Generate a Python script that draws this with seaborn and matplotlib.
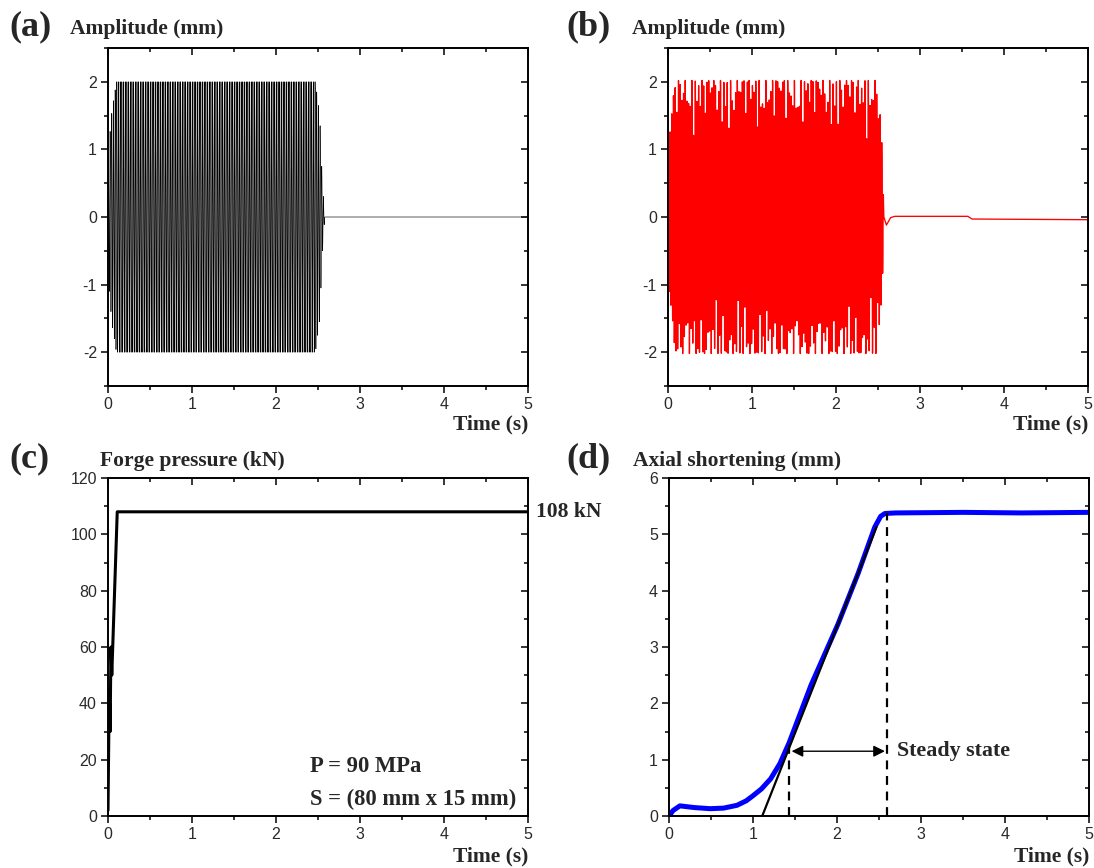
import numpy as np
import pandas as pd
import matplotlib
matplotlib.use("Agg")
import matplotlib.pyplot as plt
from matplotlib.ticker import MultipleLocator
import seaborn as sns

sns.set_theme(style="white")
plt.rcParams['font.family'] = ['Liberation Sans', 'DejaVu Sans']
plt.rcParams['axes.unicode_minus'] = False

# ---------------- data ----------------
# (a) vibration amplitude: envelope knots, oscillation frequency (Hz)
a_env_t = [0.0, 0.02, 0.05, 0.10, 2.47, 2.52, 2.55, 2.58]
a_env_amp = [0.8, 1.2, 1.6, 2.0, 2.0, 1.5, 0.6, 0.0]
a_freq = 50.0
a_tail_t = [2.58, 5.0]
a_tail_v = [0.0, 0.0]

# (b) measured amplitude: envelope knots, carrier frequency, peak-dip modulation, tail
b_env_t = [0.0, 0.02, 0.05, 0.10, 2.48, 2.53, 2.56, 2.57]
b_env_amp = [0.9, 1.3, 1.7, 2.02, 2.02, 1.5, 0.7, 0.0]
b_freq = 50.0
b_dip_freq_top = [7.3, 11.9]
b_dip_freq_bot = [5.7, 13.3]
b_dip_depth = [0.24, 0.20]
b_tail_t = [2.57, 2.60, 2.65, 2.70, 3.57, 3.62, 5.0]
b_tail_v = [0.0, -0.12, -0.01, 0.01, 0.01, -0.03, -0.04]

# (c) forge pressure
c_t = [0.0, 0.015, 0.025, 0.035, 0.045, 0.11, 5.0]
c_v = [2.0, 45.0, 30.0, 60.0, 50.0, 108.0, 108.0]

# (d) axial shortening
d_t = [0.0, 0.05, 0.13, 0.3, 0.49, 0.65, 0.81, 0.92, 1.0, 1.1, 1.21, 1.32, 1.43,
       1.69, 2.01, 2.25, 2.45, 2.52, 2.57, 2.7, 3.5, 4.2, 5.0]
d_v = [0.0, 0.10, 0.18, 0.15, 0.13, 0.14, 0.19, 0.27, 0.36, 0.48, 0.66, 0.93, 1.30,
       2.32, 3.40, 4.30, 5.13, 5.32, 5.37, 5.38, 5.39, 5.38, 5.39]
d_tan_t = [1.11, 2.47]
d_tan_v = [0.0, 5.13]
d_dash_t = [1.43, 2.60]
d_dash_top = [1.35, 5.38]
d_arrow_y = 1.15

# ---------------- build series ----------------
fs = 1000.0
t_osc = np.arange(0, a_env_t[-1], 1 / fs)
a_sig = np.interp(t_osc, a_env_t, a_env_amp) * np.sin(2 * np.pi * a_freq * t_osc)
df_a = pd.DataFrame({"t": np.concatenate([t_osc, a_tail_t]),
                     "v": np.concatenate([a_sig, a_tail_v])})

t_osc_b = np.arange(0, b_env_t[-1], 1 / fs)
s = np.sin(2 * np.pi * b_freq * t_osc_b)
def dips(freqs):
    return 1 - sum(d * np.sin(2 * np.pi * f * t_osc_b + 0.7 * i) ** 12
                   for i, (d, f) in enumerate(zip(b_dip_depth, freqs)))
mod = np.where(s > 0, dips(b_dip_freq_top), dips(b_dip_freq_bot))
b_sig = np.interp(t_osc_b, b_env_t, b_env_amp) * s * mod
df_b = pd.DataFrame({"t": np.concatenate([t_osc_b, b_tail_t]),
                     "v": np.concatenate([b_sig, b_tail_v])})
df_c = pd.DataFrame({"t": c_t, "v": c_v})
df_d = pd.DataFrame({"t": d_t, "v": d_v})
df_tan = pd.DataFrame({"t": d_tan_t, "v": d_tan_v})

# ---------------- figure ----------------
W, H = 1094, 868
fig = plt.figure(figsize=(W / 100, H / 100), dpi=100)

def fx(px):
    return px / W

def fy(py):
    return 1 - py / H

axw, axh = 420 / W, 338 / H
ax_a = fig.add_axes([fx(108), fy(386), axw, axh])
ax_b = fig.add_axes([fx(668), fy(386), axw, axh])
ax_c = fig.add_axes([fx(108), fy(816), axw, axh])
ax_d = fig.add_axes([fx(669), fy(816), axw, axh])

serif = ['Liberation Serif', 'DejaVu Serif']

def style(ax, ylim, ymaj, ymin):
    ax.set_xlim(0, 5)
    ax.set_ylim(*ylim)
    ax.xaxis.set_major_locator(MultipleLocator(1))
    ax.xaxis.set_minor_locator(MultipleLocator(0.5))
    ax.yaxis.set_major_locator(MultipleLocator(ymaj))
    ax.yaxis.set_minor_locator(MultipleLocator(ymin))
    ax.set_xlabel("")
    ax.set_ylabel("")
    for sp in ax.spines.values():
        sp.set_linewidth(1.4)
        sp.set_color("black")
    ax.tick_params(which="both", direction="out", bottom=True, left=True,
                   top=False, right=False, color="black", width=1.1,
                   labelsize=11.5, labelcolor="#2a2a2a", pad=3)
    ax.tick_params(which="major", length=5)
    ax.tick_params(which="minor", length=3)
    ax2 = ax.secondary_xaxis("top")
    ax2.xaxis.set_major_locator(MultipleLocator(1))
    ax2.xaxis.set_minor_locator(MultipleLocator(0.5))
    ax2.tick_params(which="both", direction="in", labeltop=False, width=1.1, color="black")
    ax2.tick_params(which="major", length=5)
    ax2.tick_params(which="minor", length=3)
    ax3 = ax.secondary_yaxis("right")
    ax3.yaxis.set_major_locator(MultipleLocator(ymaj))
    ax3.yaxis.set_minor_locator(MultipleLocator(ymin))
    ax3.tick_params(which="both", direction="in", labelright=False, width=1.1, color="black")
    ax3.tick_params(which="major", length=5)
    ax3.tick_params(which="minor", length=3)
    ax2.spines["top"].set_visible(False)
    ax3.spines["right"].set_visible(False)
    ax.grid(False)

sns.lineplot(data=df_a, x="t", y="v", ax=ax_a, color="black", lw=0.45,
             sort=False, estimator=None)
sns.lineplot(data=df_b, x="t", y="v", ax=ax_b, color="red", lw=0.95,
             sort=False, estimator=None)
sns.lineplot(data=df_c, x="t", y="v", ax=ax_c, color="black", lw=2.2,
             sort=False, estimator=None)
sns.lineplot(data=df_d, x="t", y="v", ax=ax_d, color="blue", lw=3.6,
             sort=False, estimator=None)
sns.lineplot(data=df_tan, x="t", y="v", ax=ax_d, color="black", lw=1.6,
             sort=False, estimator=None)

style(ax_a, (-2.5, 2.5), 1, 0.5)
style(ax_b, (-2.5, 2.5), 1, 0.5)
style(ax_c, (0, 120), 20, 10)
style(ax_d, (0, 6), 1, 0.5)

# panel d annotations
ax_d.vlines(d_dash_t, [0, 0], d_dash_top, colors="black", linestyles=(0, (4, 3)), lw=1.6)
ax_d.annotate("", xy=(d_dash_t[0] + 0.03, d_arrow_y), xytext=(d_dash_t[1] - 0.03, d_arrow_y),
              arrowprops=dict(arrowstyle="<|-|>", color="black", lw=1.0,
                              mutation_scale=17, shrinkA=0, shrinkB=0))
ax_d.text(2.72, d_arrow_y, "Steady state", family=serif, fontweight="bold",
          fontsize=15.8, va="center", ha="left")

# panel c annotations
ax_c.text(1.02, 108, "108 kN", transform=ax_c.get_yaxis_transform(), family=serif,
          fontweight="bold", fontsize=15.5, va="center", ha="left")
ax_c.text(2.4, 17.5, "P = 90 MPa", family=serif, fontweight="bold", fontsize=16.3,
          va="center", ha="left")
ax_c.text(2.4, 5.8, "S = (80 mm x 15 mm)", family=serif, fontweight="bold", fontsize=16.3,
          va="center", ha="left")

# panel titles and axis labels
labels = ["(a)", "(b)", "(c)", "(d)"]
titles = ["Amplitude (mm)", "Amplitude (mm)", "Forge pressure (kN)", "Axial shortening (mm)"]
lab_x = [9, 566, 9, 566]
lab_y = [27, 27, 459, 459]
tit_x = [70, 632, 100, 633]
for lab, tit, x0, y0, x1 in zip(labels, titles, lab_x, lab_y, tit_x):
    fig.text(fx(x0), fy(y0), lab, family=serif, fontweight="bold", fontsize=26,
             va="center", ha="left")
    fig.text(fx(x1), fy(y0 + 2), tit, family=serif, fontweight="bold", fontsize=15.5,
             va="center", ha="left")

for ax, y in [(ax_a, 424), (ax_b, 424), (ax_c, 856), (ax_d, 856)]:
    bb = ax.get_position()
    fig.text(bb.x1, fy(y), "Time (s)", family=serif, fontweight="bold", fontsize=15.5,
             va="center", ha="right")

fig.savefig("out.png", dpi=100, facecolor="white")
